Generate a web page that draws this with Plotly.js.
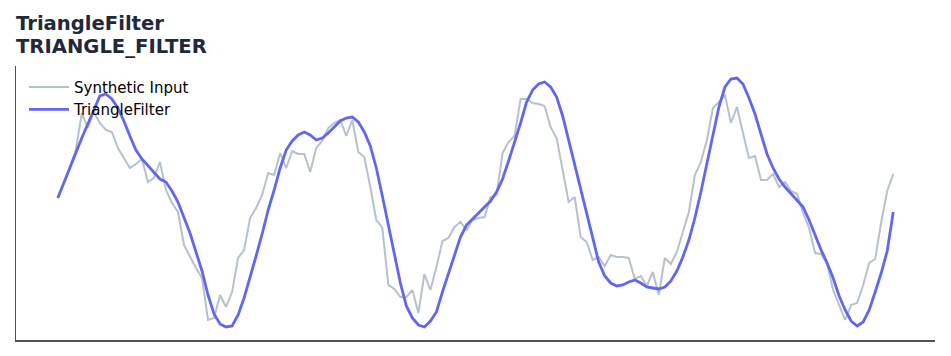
<!DOCTYPE html>
<html>
<head>
<meta charset="utf-8">
<script src="https://cdn.plot.ly/plotly-3.0.1.min.js"></script>
<style>html,body{margin:0;padding:0;background:#fff}#chart{width:951px;height:356px}</style>
</head>
<body>
<div id="chart"></div>
<script>
const titleLine1 = "TriangleFilter";
const titleLine2 = "TRIANGLE_FILTER";
const seriesNames = ["Synthetic Input", "TriangleFilter"];

const syntheticInput = [
  0.04, 0.18, 0.34, 0.52, 0.89, 0.74, 0.90, 0.79, 0.72, 0.70,
  0.54, 0.44, 0.34, 0.38, 0.43, 0.20, 0.24, 0.40, 0.12, -0.01,
  -0.10, -0.43, -0.55, -0.66, -0.76, -1.18, -1.16, -0.93, -1.05, -0.90,
  -0.56, -0.48, -0.16, -0.06, 0.07, 0.29, 0.27, 0.49, 0.34, 0.51,
  0.48, 0.48, 0.30, 0.54, 0.61, 0.74, 0.79, 0.82, 0.66, 0.82,
  0.50, 0.45, 0.15, -0.18, -0.26, -0.83, -0.87, -0.95, -0.95, -0.88,
  -1.11, -0.72, -0.88, -0.65, -0.39, -0.36, -0.25, -0.20, -0.28, -0.18,
  -0.16, -0.15, 0.05, 0.07, 0.49, 0.60, 0.66, 1.03, 1.03, 0.99,
  0.98, 0.96, 0.75, 0.64, 0.32, 0.00, 0.05, -0.35, -0.40, -0.58,
  -0.55, -0.64, -0.53, -0.55, -0.55, -0.56, -0.77, -0.74, -0.84, -0.70,
  -0.93, -0.56, -0.62, -0.50, -0.30, -0.10, 0.27, 0.40, 0.62, 0.94,
  1.00, 1.07, 0.79, 0.95, 0.69, 0.44, 0.46, 0.22, 0.22, 0.28,
  0.15, 0.20, 0.11, 0.08, -0.11, -0.26, -0.51, -0.52, -0.62, -0.88,
  -1.03, -1.18, -1.03, -1.01, -0.83, -0.61, -0.57, -0.20, 0.11, 0.28
];

const triangleFilter = [
  0.04, 0.19, 0.34, 0.50, 0.64, 0.78, 0.92, 1.06, 1.08, 1.03,
  0.94, 0.81, 0.66, 0.52, 0.43, 0.36, 0.29, 0.23, 0.20, 0.11,
  0.00, -0.15, -0.31, -0.50, -0.69, -0.93, -1.12, -1.22, -1.25, -1.24,
  -1.13, -0.96, -0.76, -0.54, -0.32, -0.08, 0.12, 0.34, 0.52, 0.61,
  0.67, 0.70, 0.67, 0.62, 0.64, 0.69, 0.75, 0.81, 0.84, 0.85,
  0.80, 0.70, 0.56, 0.34, 0.06, -0.24, -0.54, -0.81, -1.04, -1.16,
  -1.23, -1.25, -1.19, -1.10, -0.90, -0.71, -0.52, -0.35, -0.23, -0.17,
  -0.10, -0.05, 0.01, 0.10, 0.23, 0.41, 0.59, 0.79, 1.00, 1.12,
  1.18, 1.20, 1.15, 1.05, 0.86, 0.62, 0.37, 0.12, -0.12, -0.36,
  -0.60, -0.74, -0.81, -0.84, -0.83, -0.80, -0.78, -0.81, -0.85, -0.86,
  -0.87, -0.85, -0.79, -0.69, -0.55, -0.38, -0.16, 0.10, 0.39, 0.68,
  0.95, 1.15, 1.23, 1.24, 1.18, 1.04, 0.88, 0.68, 0.48, 0.34,
  0.23, 0.15, 0.08, 0.02, -0.05, -0.18, -0.34, -0.48, -0.61, -0.76,
  -0.94, -1.08, -1.19, -1.24, -1.20, -1.08, -0.90, -0.71, -0.49, -0.10
];

const sampleIndex = syntheticInput.map((_, i) => i);

const font = "DejaVu Sans, Verdana, sans-serif";

const traces = [
  {
    x: sampleIndex, y: syntheticInput, name: seriesNames[0],
    type: "scatter", mode: "lines",
    line: {color: "rgba(148,163,184,0.68)", width: 2}
  },
  {
    x: sampleIndex, y: triangleFilter, name: seriesNames[1],
    type: "scatter", mode: "lines",
    line: {color: "#6366f1", width: 2.8}
  }
];

const layout = {
  width: 951, height: 356,
  margin: {l: 16, r: 16, t: 66, b: 16, pad: 0},
  paper_bgcolor: "#ffffff", plot_bgcolor: "#ffffff",
  font: {family: font, color: "#000000"},
  showlegend: true,
  legend: {
    x: 0.0087, y: 0.983, xanchor: "left", yanchor: "top",
    bgcolor: "rgba(255,255,255,0)", borderwidth: 0,
    font: {family: font, size: 15, color: "#000000"},
    itemwidth: 40, tracegroupgap: 0
  },
  xaxis: {
    range: [-6.95, 145.95], showgrid: false, zeroline: false,
    showticklabels: false, ticks: "", showline: true,
    linecolor: "#4a5263", linewidth: 1.5, mirror: false
  },
  yaxis: {
    range: [-1.38, 1.36], showgrid: false, zeroline: false,
    showticklabels: false, ticks: "", showline: true,
    linecolor: "#4a5263", linewidth: 1.5, mirror: false
  },
  annotations: [
    {
      text: "<b>" + titleLine1 + "</b>", xref: "paper", yref: "paper",
      x: -0.0016, y: 1.1558, xanchor: "left", yanchor: "middle", showarrow: false,
      borderpad: 0,
      font: {family: font, size: 19.6, color: "#1e293b"}
    },
    {
      text: "<b>" + titleLine2 + "</b>", xref: "paper", yref: "paper",
      x: -0.0016, y: 1.0719, xanchor: "left", yanchor: "middle", showarrow: false,
      borderpad: 0,
      font: {family: font, size: 19.6, color: "#1e293b"}
    }
  ]
};

Plotly.newPlot("chart", traces, layout, {displayModeBar: false, staticPlot: true});
</script>
</body>
</html>
